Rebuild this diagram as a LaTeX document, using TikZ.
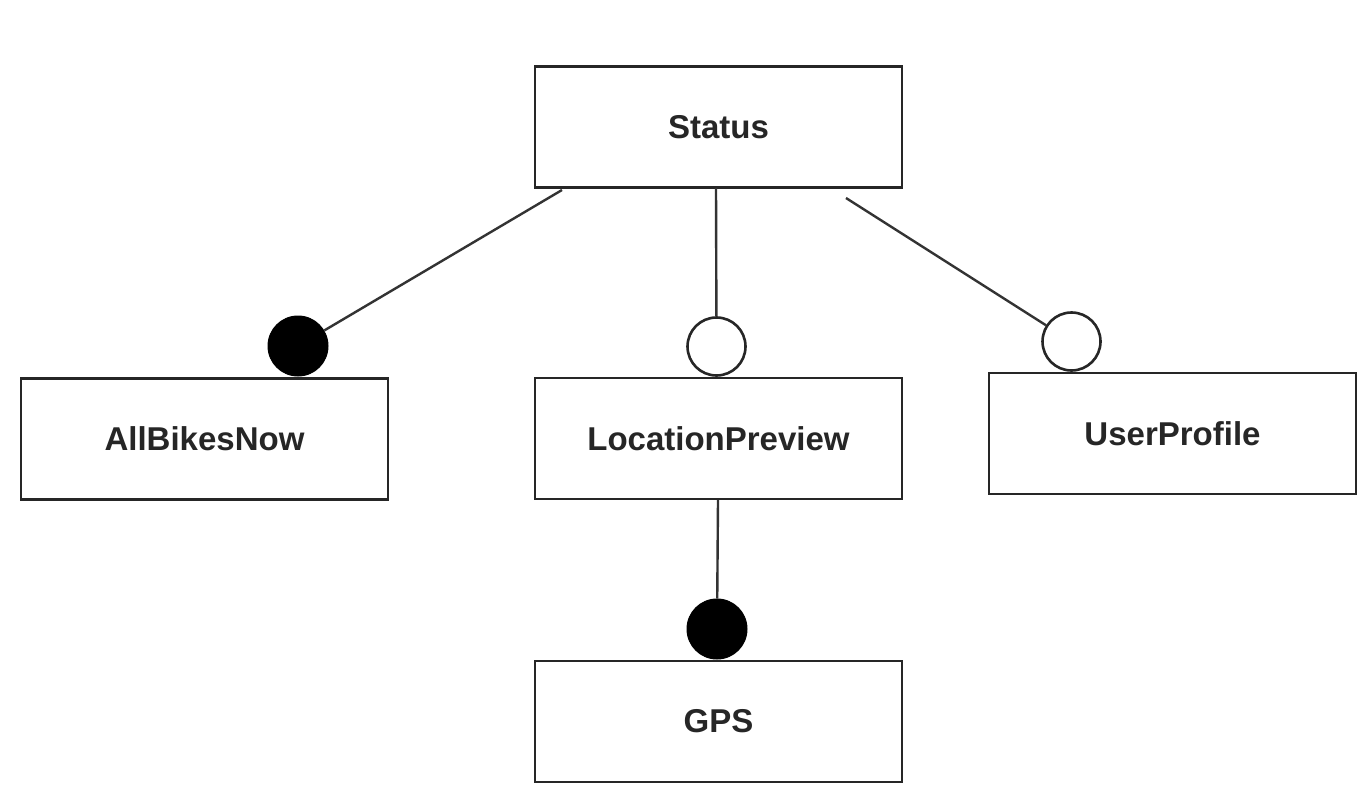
\documentclass[tikz,border=0pt]{standalone}
\usepackage{fontspec}
\setmainfont{Liberation Sans}
\begin{document}
\begin{tikzpicture}[x=1pt,y=-1pt,
  feat/.style={draw=black!85,line width=2.6pt,minimum width=367pt,minimum height=121pt,inner sep=0pt,
    font=\fontsize{33}{38}\selectfont\bfseries,text=black!85},
  mand/.style={circle,fill=black,draw=black,line width=1pt,minimum size=60pt,inner sep=0pt},
  opt/.style={circle,fill=white,draw=black!85,line width=2.6pt,minimum size=58pt,inner sep=0pt},
  link/.style={draw=black!80,line width=2.4pt}]
\useasboundingbox (0,0) rectangle (1359,802);
\fill[white] (0,0) rectangle (1359,802);
\node[feat] (st) at (718.5,127) {Status};
\node[feat] (ab) at (204.5,439) {AllBikesNow};
\node[feat] (lp) at (718.5,438.5) {LocationPreview};
\node[feat] (up) at (1172.5,433.5) {UserProfile};
\node[feat] (gps) at (718.5,721.5) {GPS};
\node[mand] (c1) at (298,346) {};
\node[opt] (c2) at (716.5,346.5) {};
\node[opt] (c3) at (1071.5,341.5) {};
\node[mand] (c4) at (717,629) {};
\coordinate (a1) at (562,190);
\coordinate (a2) at (716,188);
\coordinate (a3) at (846,198);
\coordinate (a4) at (718,500);
\draw[link] (a1) -- (c1);
\draw[link] (a2) -- (c2);
\draw[link] (a3) -- (c3);
\draw[link] (a4) -- (c4);
\end{tikzpicture}
\end{document}
